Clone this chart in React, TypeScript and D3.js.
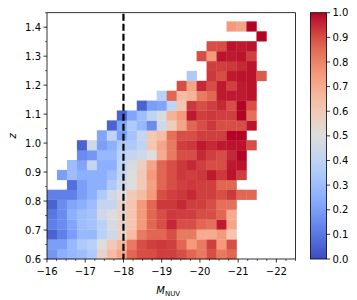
import * as d3 from 'd3'

// fraction per (M_NUV, z) cell; rows go from z=0.6 upward,
// each row begins at column rowStart[i] (columns run from -16 towards -22)
const rowStart = [0, 0, 0, 0, 0, 0, 0, 2, 1, 2, 3, 3, 5, 6, 7, 9, 11, 13, 14, 16, 15, 16, 21, 18]
const fracRows: (number | null)[][] = [
  [0.18, 0.25, 0.28, 0.3, 0.35, 0.55, 0.65, 0.72, 0.86, 0.9, 0.9, 0.92, 0.92, 0.9, 0.86, 0.82, 0.9, 0.82, 0.86],
  [0.2, 0.2, 0.28, 0.35, 0.38, 0.5, 0.6, 0.66, 0.82, 0.9, 0.92, 0.93, 0.92, 0.86, 0.75, 0.82, 0.92, 0.75, 0.9],
  [0.05, 0.12, 0.2, 0.28, 0.28, 0.38, 0.45, 0.55, 0.65, 0.82, 0.86, 0.86, 0.9, 0.82, 0.82, 0.7, 0.7, 0.75, 0.62],
  [0.12, 0.15, 0.22, 0.3, 0.32, 0.38, 0.48, 0.55, 0.62, 0.75, 0.86, 0.9, 0.95, 0.9, 0.9, 0.86, 0.84, 0.97, 0.72],
  [0.1, 0.15, 0.25, 0.3, 0.32, 0.45, 0.5, 0.55, 0.62, 0.75, 0.86, 0.9, 0.93, 0.92, 0.92, 0.9, 0.9, 0.86, 0.7],
  [0.05, 0.15, 0.22, 0.25, 0.3, 0.42, 0.42, 0.55, 0.62, 0.75, 0.86, 0.93, 0.93, 0.95, 0.92, 0.92, 0.9, 0.84, 0.84],
  [0.12, 0.12, 0.12, 0.2, 0.25, 0.35, 0.45, 0.5, 0.6, 0.65, 0.75, 0.9, 0.92, 0.93, 0.95, 0.92, 0.92, 0.9, 0.93, 0.86, 0.86],
  [0.08, 0.2, 0.25, 0.25, 0.35, 0.45, 0.5, 0.6, 0.73, 0.86, 0.9, 0.92, 0.93, 0.92, 0.92, 0.86, 0.86],
  [0.2, 0.3, 0.25, 0.25, 0.25, 0.3, 0.42, 0.5, 0.6, 0.75, 0.86, 0.9, 0.93, 0.92, 0.93, 0.97, 0.93, 0.98, 0.92],
  [0.3, 0.22, 0.42, 0.25, 0.25, 0.4, 0.48, 0.58, 0.72, 0.86, 0.9, 0.93, 0.95, 0.92, 0.9, 0.9, 0.97, 0.98],
  [0.15, 0.18, 0.28, 0.28, 0.38, 0.42, 0.45, 0.5, 0.7, 0.82, 0.9, 0.9, 0.95, 0.92, 0.9, 0.95, 1.0],
  [0.05, 0.45, 0.2, 0.25, 0.35, 0.35, 0.4, 0.62, 0.72, 0.82, 0.92, 0.93, 0.97, 0.95, 0.97, 0.98, 0.98, 0.9],
  [0.22, 0.4, 0.2, 0.32, 0.42, 0.6, 0.65, 0.84, 0.9, 0.9, 0.92, 0.92, 0.92, 1.0, 1.0],
  [0.05, 0.22, 0.35, 0.28, 0.15, 0.45, 0.58, 0.72, 0.86, 0.9, 0.93, 0.9, 0.9, 0.9, 0.98],
  [0.05, 0.22, 0.3, 0.4, 0.48, 0.68, 0.75, 0.97, 0.92, 0.93, 0.92, 0.92, 1.0, 0.84],
  [0.05, 0.2, 0.22, 0.4, 0.62, 0.93, 0.9, 0.92, 0.95, 0.9, 1.0, 0.9],
  [0.38, 0.86, 0.65, 0.68, 0.82, 0.86, 0.97, 0.97, 0.97, 0.98],
  [0.9, 0.72, 0.95, 0.9, 0.97, 0.92, 0.97, 0.98],
  [0.35, null, 0.93, 0.9, 0.97, 0.98, 0.98, 0.88],
  [0.92, 0.92, 0.93, 0.95, 0.98],
  [0.9, 0.75, 0.98, 0.97, 0.98, 0.92],
  [0.9, 0.9, 0.98, 0.97, 0.98],
  [1.0],
  [0.75, 0.72, 1.0],
]

// bin grid
const magLo = -16
const magHi = -22
const nMagBins = 23
const zLo = 0.6
const zHi = 1.42
const nZBins = 24

const xTicks = [-16, -17, -18, -19, -20, -21, -22]
const yTicks = [0.6, 0.7, 0.8, 0.9, 1.0, 1.1, 1.2, 1.3, 1.4]
const cbTicks = [0, 0.1, 0.2, 0.3, 0.4, 0.5, 0.6, 0.7, 0.8, 0.9, 1.0]
const cutMag = -18

const coolwarm = d3.scaleLinear<string>()
  .domain([0, 0.125, 0.25, 0.375, 0.5, 0.625, 0.75, 0.875, 1])
  .range(['#3b4cc0', '#6282ea', '#8db0fe', '#b8d0f9', '#dddddd', '#f5c4ad', '#f49a7b', '#de604d', '#b40426'])
  .interpolate(d3.interpolateRgb)
  .clamp(true)

const W = 357
const H = 300
const plot = { left: 47, right: 295.5, top: 12.7, bottom: 259 }
const cb = { left: 310.5, right: 326.5 }
const font = '"DejaVu Sans", sans-serif'
const fmtMinus = (v: number) => (v < 0 ? '\u2212' + Math.abs(v) : String(v))

export default function App() {
  const x = d3.scaleLinear().domain([-16, -22.5]).range([plot.left, plot.right])
  const y = d3.scaleLinear().domain([0.6, 1.45]).range([plot.bottom, plot.top])
  const cy = d3.scaleLinear().domain([0, 1]).range([plot.bottom, plot.top])

  const dx = (magHi - magLo) / nMagBins
  const dz = (zHi - zLo) / nZBins

  const cells: { x0: number; x1: number; y0: number; y1: number; v: number }[] = []
  fracRows.forEach((row, r) => {
    row.forEach((v, k) => {
      if (v == null) return
      const c = rowStart[r] + k
      cells.push({
        x0: x(magLo + c * dx), x1: x(magLo + (c + 1) * dx),
        y0: y(zLo + (r + 1) * dz), y1: y(zLo + r * dz), v,
      })
    })
  })

  const xMinor = d3.range(-16, -22.51, -0.25).filter(t => Math.abs(t - Math.round(t)) > 1e-6)
  const yMinor = d3.range(0.65, 1.451, 0.1)
  const gradStops = d3.range(0, 1.0001, 0.05)

  return (
    <div style={{ width: W, height: H, position: 'absolute', left: 0, top: 0 }}>
      <svg width={W} height={H} style={{ display: 'block', background: '#fff' }} fontFamily={font}>
        <defs>
          <linearGradient id="cw" x1="0" y1="1" x2="0" y2="0">
            {gradStops.map(t => (
              <stop key={t} offset={t} stopColor={coolwarm(t)} />
            ))}
          </linearGradient>
        </defs>

        {cells.map((d, i) => (
          <rect key={i} x={d.x0} y={d.y0} width={d.x1 - d.x0 + 0.3} height={d.y1 - d.y0 + 0.3}
            fill={coolwarm(d.v)} />
        ))}

        <line x1={x(cutMag)} x2={x(cutMag)} y1={plot.top + 1} y2={plot.bottom}
          stroke="#000" strokeWidth={2.2} strokeDasharray="7,3" />

        <rect x={plot.left} y={plot.top} width={plot.right - plot.left} height={plot.bottom - plot.top}
          fill="none" stroke="#000" strokeWidth={0.8} />

        {/* x axis */}
        {xTicks.map(t => (
          <g key={t}>
            <line x1={x(t)} x2={x(t)} y1={plot.bottom} y2={plot.bottom + 3.5} stroke="#000" strokeWidth={0.8} />
            <text x={x(t)} y={plot.bottom + 16} fontSize={10} textAnchor="middle" fill="#000">{fmtMinus(t)}</text>
          </g>
        ))}
        {xMinor.map(t => (
          <line key={t} x1={x(t)} x2={x(t)} y1={plot.bottom} y2={plot.bottom + 2} stroke="#000" strokeWidth={0.6} />
        ))}
        <text x={(plot.left + plot.right) / 2 - 3} y={294} fontSize={10} textAnchor="middle" fill="#000">
          <tspan fontStyle="italic">M</tspan>
          <tspan fontSize={7} dy={2}>NUV</tspan>
        </text>

        {/* y axis */}
        {yTicks.map(t => (
          <g key={t}>
            <line x1={plot.left - 3.5} x2={plot.left} y1={y(t)} y2={y(t)} stroke="#000" strokeWidth={0.8} />
            <text x={plot.left - 6} y={y(t) + 3.6} fontSize={10} textAnchor="end" fill="#000">{t.toFixed(1)}</text>
          </g>
        ))}
        {yMinor.map(t => (
          <line key={t} x1={plot.left - 2} x2={plot.left} y1={y(t)} y2={y(t)} stroke="#000" strokeWidth={0.6} />
        ))}
        <text transform={`translate(16,${(plot.top + plot.bottom) / 2}) rotate(-90)`} fontSize={10}
          fontStyle="italic" textAnchor="middle" fill="#000">z</text>

        {/* colorbar */}
        <rect x={cb.left} y={plot.top} width={cb.right - cb.left} height={plot.bottom - plot.top}
          fill="url(#cw)" stroke="#000" strokeWidth={0.8} />
        {cbTicks.map(t => (
          <g key={t}>
            <line x1={cb.right} x2={cb.right + 3.5} y1={cy(t)} y2={cy(t)} stroke="#000" strokeWidth={0.8} />
            <text x={cb.right + 6} y={cy(t) + 3.6} fontSize={10} fill="#000">{t.toFixed(1)}</text>
          </g>
        ))}
      </svg>
    </div>
  )
}
